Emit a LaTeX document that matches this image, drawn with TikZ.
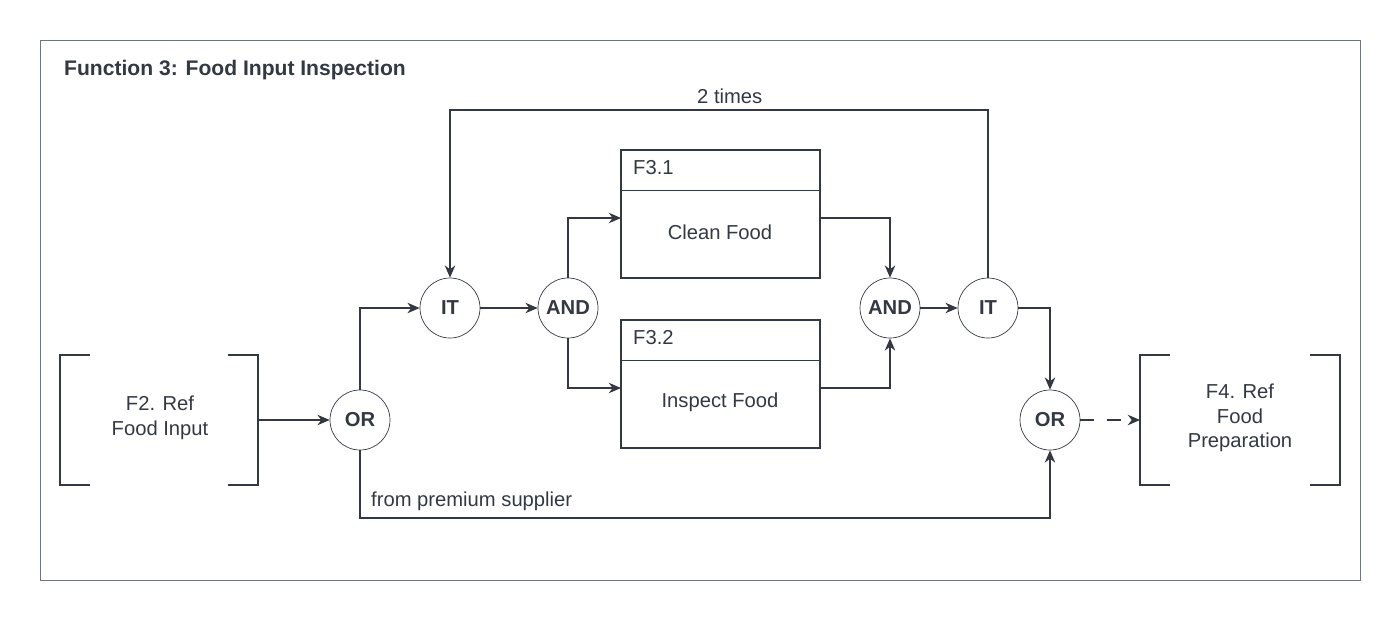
\documentclass[tikz,border=0pt]{standalone}
\usepackage{fontspec}
\setmainfont{Liberation Sans}
\usetikzlibrary{arrows.meta,calc}
\definecolor{ink}{RGB}{51,56,66}

\begin{document}
\begin{tikzpicture}[x=0.02cm,y=-0.02cm,
    every node/.style={text=ink,font=\fontsize{11.5}{14}\selectfont},
    gate/.style={draw=ink,circle,minimum size=1.2cm,inner sep=0pt,font=\fontsize{11.5}{14}\selectfont\bfseries},
    flow/.style={draw=ink,-{Stealth[length=7pt,width=6pt]},line width=0.6pt}]
    \useasboundingbox (0,0) rectangle (1400,620);
    \draw[ink!70] (40,40) rectangle (1360,580);
    \node[anchor=west,font=\fontsize{12}{14}\selectfont\bfseries] (title) at (58,70) {Function 3: Food Input Inspection};
    % reference brackets
    \draw[ink,line width=0.6pt] (90,355)--(60,355)--(60,485)--(90,485);
    \draw[ink,line width=0.6pt] (228,355)--(258,355)--(258,485)--(228,485);
    \node[align=center] (f2) at (160,418) {F2. Ref\\Food Input};
    \coordinate (f2out) at (258,420);
    \draw[ink,line width=0.6pt] (1170,355)--(1140,355)--(1140,485)--(1170,485);
    \draw[ink,line width=0.6pt] (1310,355)--(1340,355)--(1340,485)--(1310,485);
    \node[align=center] (f4) at (1240,418) {F4. Ref\\Food\\Preparation};
    \coordinate (f4in) at (1140,420);
    % function boxes
    \draw[ink,line width=0.6pt] (621,150) rectangle (820,278); \draw[ink] (621,190)--(820,190);
    \node[anchor=west] (f31) at (627,168) {F3.1};
    \node (clean) at (720,232) {Clean Food};
    \draw[ink,line width=0.6pt] (621,320) rectangle (820,448); \draw[ink] (621,360)--(820,360);
    \node[anchor=west] (f32) at (627,338) {F3.2};
    \node (inspect) at (720,402) {Inspect Food};
    \coordinate (b1in) at (621,218); \coordinate (b1out) at (820,218);
    \coordinate (b2in) at (621,388); \coordinate (b2out) at (820,388);
    % gates
    \node[gate] (or1) at (360,420) {OR};
    \node[gate] (it1) at (450,308) {IT};
    \node[gate] (and1) at (568,308) {AND};
    \node[gate] (and2) at (890,308) {AND};
    \node[gate] (it2) at (988,308) {IT};
    \node[gate] (or2) at (1050,420) {OR};
    % connectors
    \draw[flow] (f2out) -- (or1);
    \draw[flow] (or1) |- (it1);
    \draw[flow] (it1) -- (and1);
    \draw[flow] (and1) |- (b1in);
    \draw[flow] (and1) |- (b2in);
    \draw[flow] (b1out) -| (and2);
    \draw[flow] (b2out) -| (and2);
    \draw[flow] (and2) -- (it2);
    \draw[flow] (it2.north) -- (988,110) -- node[above,pos=0.48] (times) {2 times} (450,110) -- (it1.north);
    \draw[flow] (it2) -| (or2);
    \draw[flow] (or1.south) -- (360,518) -- (1050,518) -- (or2.south);
    \node[anchor=west] (prem) at (365,501) {from premium supplier};
    \draw[flow,dash pattern=on 8pt off 7pt] (or2) -- (f4in);
\end{tikzpicture}
\end{document}
